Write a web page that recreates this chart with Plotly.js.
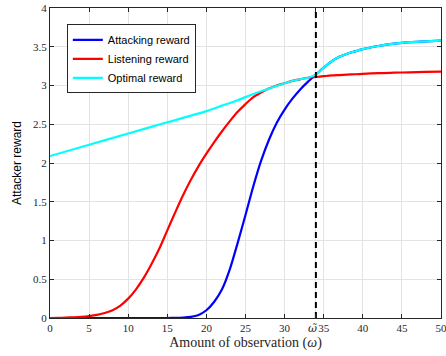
<!DOCTYPE html>
<html>
<head>
<meta charset="utf-8">
<script src="https://cdn.plot.ly/plotly-3.0.1.min.js"></script>
<style>html,body{margin:0;padding:0;background:#fff;}#chart{width:446px;height:356px;}</style>
</head>
<body>
<div id="chart"></div>
<script>
const omega = [0,1,2,3,4,5,6,7,8,9,10,11,12,13,14,15,16,17,18,19,20,21,22,23,24,25,26,27,28,29,30,31,32,33,34,35,36,37,38,39,40,42,44,46,48,50];
const attacking = [0,0,0,0,0,0,0,0,0,0,0,0,0,0,0,0,0.002,0.006,0.015,0.04,0.10,0.21,0.37,0.63,0.97,1.33,1.70,2.03,2.30,2.52,2.69,2.83,2.95,3.05,3.14,3.23,3.31,3.37,3.41,3.44,3.47,3.51,3.54,3.56,3.57,3.58];
const listening = [0,0.002,0.005,0.009,0.015,0.025,0.04,0.065,0.10,0.16,0.25,0.37,0.52,0.70,0.90,1.13,1.36,1.58,1.78,1.96,2.12,2.27,2.41,2.54,2.66,2.76,2.85,2.91,2.96,3.00,3.03,3.06,3.08,3.10,3.11,3.12,3.13,3.135,3.14,3.145,3.15,3.16,3.165,3.17,3.175,3.18];
const optimalOmega = [0,5,10,15,20,22,24,26,28,30,32,33,34,35,36,37,38,39,40,42,44,46,48,50];
const optimal = [2.09,2.235,2.38,2.525,2.67,2.74,2.81,2.89,2.96,3.03,3.08,3.10,3.14,3.23,3.31,3.37,3.41,3.44,3.47,3.51,3.54,3.56,3.57,3.58];
const omegaTilde = 34;
const omegaTildeLabel = '<i>\u03c9\u0303</i>';
const seriesNames = ['Attacking reward','Listening reward','Optimal reward'];
const xTickVals = [0,5,10,15,20,25,30,34,35,40,45,50];
const xTickText = ['0','5','10','15','20','25','30','','35','40','45','50'];
const yTickVals = [0,0.5,1,1.5,2,2.5,3,3.5,4];
const yTickText = ['0','0.5','1','1.5','2','2.5','3','3.5','4'];

const serif = 'Liberation Serif, DejaVu Serif, serif';
const sans = 'Liberation Sans, Arial, sans-serif';

const traces = [
  {x: omega, y: attacking, name: seriesNames[0], mode: 'lines', line: {color: '#0000ff', width: 2.2, shape: 'spline', smoothing: 0.8}},
  {x: omega, y: listening, name: seriesNames[1], mode: 'lines', line: {color: '#ff0000', width: 2.2, shape: 'spline', smoothing: 0.8}},
  {x: optimalOmega, y: optimal, name: seriesNames[2], mode: 'lines', line: {color: '#00ffff', width: 2.2, shape: 'spline', smoothing: 0.8}},
  {x: [omegaTilde, omegaTilde], y: [0, 4], mode: 'lines', showlegend: false, hoverinfo: 'skip',
   line: {color: '#000000', width: 2, dash: '6px,4px'}}
];

const layout = {
  width: 446, height: 356,
  margin: {l: 50, r: 5, t: 8, b: 38},
  paper_bgcolor: '#ffffff', plot_bgcolor: '#ffffff',
  showlegend: true,
  legend: {
    x: 0.043, y: 0.947, xanchor: 'left', yanchor: 'top',
    bgcolor: '#ffffff', bordercolor: '#262626', borderwidth: 1,
    font: {family: sans, size: 11, color: '#000'},
    tracegroupgap: 0
  },
  annotations: [{
    x: omegaTilde, xref: 'x', y: 0, yref: 'paper', yanchor: 'top', xanchor: 'center', xshift: -3, yshift: -2,
    text: omegaTildeLabel, showarrow: false, font: {family: 'DejaVu Serif, serif', size: 11, color: '#262626'}
  }],
  xaxis: {
    range: [0, 50], tickmode: 'array', tickvals: xTickVals, ticktext: xTickText, tickangle: 0,
    ticklabeloverflow: 'allow',
    ticks: 'inside', ticklen: 4, tickcolor: '#262626', showline: true, linecolor: '#262626', linewidth: 1,
    mirror: 'ticks', showgrid: true, gridcolor: '#e3e3e3', gridwidth: 1, zeroline: false,
    tickfont: {family: serif, size: 11, color: '#262626'},
    title: {text: 'Amount of observation (<i>\u03c9</i>)', font: {family: serif, size: 14, color: '#262626'}, standoff: 3}
  },
  yaxis: {
    range: [0, 4], tickmode: 'array', tickvals: yTickVals, ticktext: yTickText,
    ticks: 'inside', ticklen: 4, tickcolor: '#262626', showline: true, linecolor: '#262626', linewidth: 1,
    mirror: 'ticks', showgrid: true, gridcolor: '#e3e3e3', gridwidth: 1, zeroline: false,
    tickfont: {family: serif, size: 11, color: '#262626'},
    title: {text: 'Attacker reward', font: {family: sans, size: 12, color: '#000'}, standoff: 8}
  }
};

Plotly.newPlot('chart', traces, layout, {displayModeBar: false, staticPlot: true});
</script>
</body>
</html>
